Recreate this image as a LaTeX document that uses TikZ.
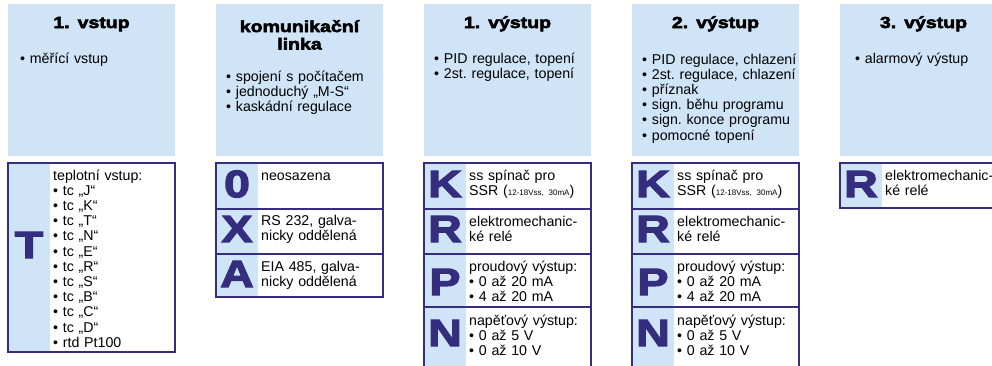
\documentclass[tikz,border=0pt]{standalone}
\usepackage{fontspec}
\setmainfont{Liberation Sans}
\newfontfamily\heavy{Liberation Sans}[FakeBold=3.5,FakeStretch=1.22]
\definecolor{panelblue}{HTML}{D0E4F7}
\definecolor{ink}{HTML}{352E7E}
\tikzset{
 panel/.style={fill=panelblue},
 frame/.style={draw=ink, line width=2.2pt},
 title/.style={font=\heavy\bfseries\fontsize{16}{17.5}\selectfont, text width=167pt, align=center, anchor=base, inner sep=0},
 body/.style={font=\fontsize{14.2}{15.2}\selectfont\frenchspacing, text width=300pt, align=left, anchor=base west, inner sep=0},
 letter/.style={font=\heavy\bfseries\fontsize{38}{38}\selectfont, text=ink, inner sep=0},
}
\begin{document}
\begin{tikzpicture}[x=1pt,y=-1pt]
\useasboundingbox (0,0) rectangle (992,365);
\clip (0,0) rectangle (992,365);
\fill[white] (0,0) rectangle (992,365);
% top panels
\foreach \x in {8,216,424,632,840} \fill[panel] (\x,4) rectangle ++(167,152);
\node[title] (t1) at (91.5,28) {1. vstup};
\node[title] (t2) at (299.5,32) {komunikační\\linka};
\node[title] (t3) at (507.5,28) {1. výstup};
\node[title] (t4) at (715.5,28) {2. výstup};
\node[title] (t5) at (923.5,28) {3. výstup};
\node[body] (l1) at (20,63) {• měřící vstup};
\node[body] (l2) at (226,81) {• spojení s počítačem\\• jednoduchý „M-S“\\• kaskádní regulace};
\node[body] (l3) at (434,63) {• PID regulace, topení\\• 2st. regulace, topení};
\node[body] (l4) at (642,64) {• PID regulace, chlazení\\• 2st. regulace, chlazení\\• příznak\\• sign. běhu programu\\• sign. konce programu\\• pomocné topení};
\node[body] (l5) at (855,63) {• alarmový výstup};
% column 1 bottom
\fill[panel] (8,163) rectangle (50,352);
\draw[frame] (8,163) rectangle (175,352);
\node[letter] (T1) at (29,245) {T};
\node[body] (b1) at (53,180) {teplotní vstup:\\• tc „J“\\• tc „K“\\• tc „T“\\• tc „N“\\• tc „E“\\• tc „R“\\• tc „S“\\• tc „B“\\• tc „C“\\• tc „D“\\• rtd Pt100};
% column 2 bottom
\fill[panel] (216,163) rectangle (258,297);
\draw[frame] (216,163) rectangle (383,297);
\draw[frame] (216,209) -- (383,209);
\draw[frame] (216,254) -- (383,254);
\node[letter] (O2) at (237,184) {0};
\node[letter] (X2) at (237,229) {X};
\node[letter] (A2) at (237,274) {A};
\node[body] (c21) at (261,180) {neosazena};
\node[body] (c22) at (261,225) {RS 232, galva-\\nicky oddělená};
\node[body] (c23) at (261,271) {EIA 485, galva-\\nicky oddělená};
% columns 3 and 4 bottom
\foreach \x/\n in {424/3,632/4}{
 \fill[panel] (\x,163) rectangle (\x+42,372);
 \draw[frame] (\x,163) rectangle (\x+167,372);
 \draw[frame] (\x,209) -- (\x+167,209);
 \draw[frame] (\x,254) -- (\x+167,254);
 \draw[frame] (\x,307) -- (\x+167,307);
 \node[letter] (K\n) at (\x+21,184) {K};
 \node[letter] (R\n) at (\x+21,229) {R};
 \node[letter] (P\n) at (\x+21,282) {P};
 \node[letter] (N\n) at (\x+21,333) {N};
 \node[body] (k\n) at (\x+45,180) {ss spínač pro\\SSR ({\fontsize{8}{8}\selectfont 12-18Vss, 30mA})};
 \node[body] (r\n) at (\x+45,226) {elektromechanic-\\ké relé};
 \node[body] (p\n) at (\x+45,271) {proudový výstup:\\• 0 až 20 mA\\• 4 až 20 mA};
 \node[body] (n\n) at (\x+45,325) {napěťový výstup:\\• 0 až 5 V\\• 0 až 10 V};
}
% column 5 bottom
\fill[panel] (840,163) rectangle (882,208);
\draw[frame] (840,163) rectangle (1007,208);
\node[letter] (R5) at (861,184) {R};
\node[body] (r5) at (885,180) {elektromechanic-\\ké relé};
\end{tikzpicture}
\end{document}
